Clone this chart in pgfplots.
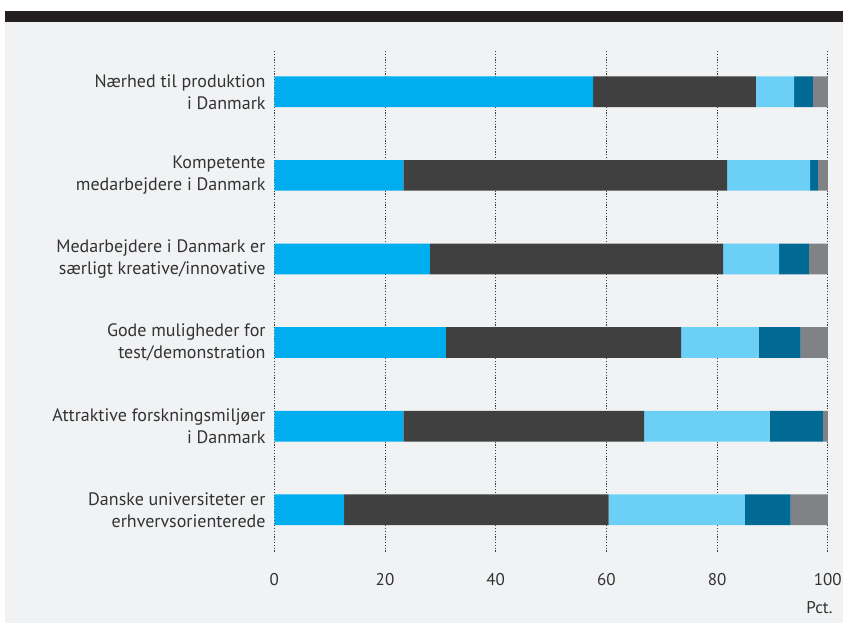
\documentclass[border=0pt]{standalone}
\usepackage{pgfplots}
\pgfplotsset{compat=1.18}
\usepackage{fontspec}
\setmainfont{PT Sans}
\definecolor{bgc}{HTML}{F1F2F4}
\definecolor{topbar}{HTML}{231F20}
\definecolor{txt}{HTML}{333333}
\definecolor{cA}{HTML}{00AEEF}
\definecolor{cB}{HTML}{404040}
\definecolor{cC}{HTML}{6CCFF6}
\definecolor{cD}{HTML}{006A94}
\definecolor{cE}{HTML}{808285}
\begin{document}
\begin{tikzpicture}
\useasboundingbox (0,0) rectangle (843bp,623bp);
\fill[white] (0,0) rectangle (843bp,623bp);
\fill[bgc] (5bp,0) rectangle (843bp,612bp);
\fill[topbar] (5bp,601bp) rectangle (843bp,612bp);
\begin{axis}[
  at={(274.3bp,71.4bp)}, anchor=south west,
  scale only axis, width=553.5bp, height=501.6bp,
  xbar stacked, bar width=30.7bp,
  xmin=0, xmax=100, ymin=0.5, ymax=6.5,
  xtick={0,20,40,60,80,100},
  ytick={1,2,3,4,5,6},
  yticklabels={
    {Danske universiteter er\\erhvervsorienterede},
    {Attraktive forskningsmiljøer\\i Danmark},
    {Gode muligheder for\\test/demonstration},
    {Medarbejdere i Danmark er\\særligt kreative/innovative},
    {Kompetente\\medarbejdere i Danmark},
    {Nærhed til produktion\\i Danmark}},
  axis line style={draw=none},
  major tick length=0pt,
  xmajorgrids,
  major grid style={black!75, line width=0.8pt, dash pattern=on 1.2pt off 1.6pt},
  /pgf/number format/assume math mode=true,
  xticklabel style={font=\fontsize{17bp}{20bp}\selectfont, text=txt, anchor=base, yshift=-34.4bp, inner sep=0pt},
  yticklabel style={font=\fontsize{18bp}{22bp}\selectfont, text=txt, align=right, anchor=east, inner sep=0pt, xshift=-8.6bp},
  xlabel={Pct.},
  xlabel style={at={(rel axis cs:1,0)}, anchor=base east, yshift=-61.4bp, xshift=5bp, inner sep=0pt, font=\fontsize{17bp}{20bp}\selectfont, text=txt},
  every axis plot/.append style={draw=none},
  clip=false,
]
\addplot[fill=cA] coordinates {(12.6,1) (23.3,2) (31.0,3) (28.1,4) (23.3,5) (57.6,6)};
\addplot[fill=cB] coordinates {(47.8,1) (43.5,2) (42.5,3) (53.0,4) (58.5,5) (29.4,6)};
\addplot[fill=cC] coordinates {(24.6,1) (22.7,2) (14.0,3) (10.1,4) (15.0,5) (6.9,6)};
\addplot[fill=cD] coordinates {(8.3,1) (9.6,2) (7.6,3) (5.4,4) (1.4,5) (3.4,6)};
\addplot[fill=cE] coordinates {(6.7,1) (0.9,2) (4.9,3) (3.4,4) (1.8,5) (2.7,6)};
\end{axis}
\end{tikzpicture}
\end{document}
